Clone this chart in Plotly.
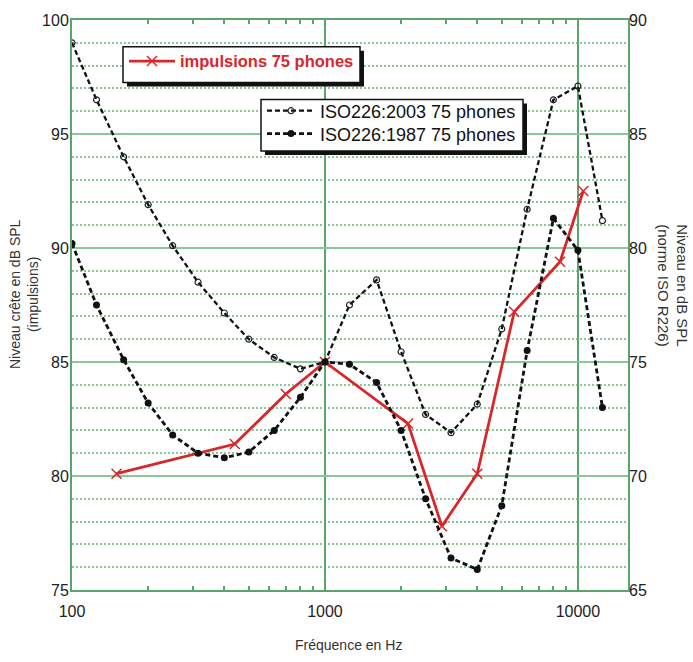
import plotly.graph_objects as go

# ---- data ----
imp_freq = [150, 440, 700, 1000, 2130, 2900, 4000, 5600, 8500, 10500]
imp_level = [80.1, 81.4, 83.6, 85.0, 82.3, 77.8, 80.1, 87.2, 89.4, 92.5]

iso_freq = [100, 125, 160, 200, 250, 315, 400, 500, 630, 800, 1000, 1250, 1600,
            2000, 2500, 3150, 4000, 5000, 6300, 8000, 10000, 12500]
iso2003 = [89.0, 86.5, 84.0, 81.9, 80.1, 78.5, 77.15, 76.0, 75.2, 74.7, 75.0, 77.5, 78.6,
           75.45, 72.7, 71.9, 73.15, 76.45, 81.7, 86.5, 87.1, 81.2]
iso1987 = [80.2, 77.5, 75.1, 73.2, 71.8, 71.0, 70.8, 71.05, 72.0, 73.45, 75.0, 74.9, 74.1,
           72.0, 69.0, 66.4, 65.9, 68.7, 75.5, 81.3, 79.9, 73.0]

left_ticks = [75, 80, 85, 90, 95, 100]
right_ticks = [65, 70, 75, 80, 85, 90]
x_ticks = [100, 1000, 10000]
x_minor = [200, 300, 400, 500, 600, 700, 800, 900,
           2000, 3000, 4000, 5000, 6000, 7000, 8000, 9000]

GREEN = "#5aa56c"
GREEN_MINOR = "#8cc79a"
RED = "#d9262b"
FONT = "Liberation Sans, Arial, sans-serif"

PW, PH, PL, PT = 556, 574, 72, 16   # plot area in px


def px_x(px):
    return (px - PL) / PW


def px_y(py):
    return 1 - (py - PT) / PH


fig = go.Figure()

fig.add_trace(go.Scatter(
    x=iso_freq, y=iso2003, yaxis="y2", name="ISO226:2003 75 phones",
    mode="lines+markers", legend="legend2",
    line=dict(color="#111", width=2.3, dash="5px,3px"),
    marker=dict(symbol="circle-open", size=6, color="#222", line=dict(width=1.2, color="#222")),
))
fig.add_trace(go.Scatter(
    x=iso_freq, y=iso1987, yaxis="y2", name="ISO226:1987 75 phones",
    mode="lines+markers", legend="legend3",
    line=dict(color="#111", width=2.8, dash="5px,3px"),
    marker=dict(symbol="circle", size=7, color="#111"),
))
fig.add_trace(go.Scatter(
    x=imp_freq, y=imp_level, name="impulsions 75 phones",
    mode="lines+markers", legend="legend",
    line=dict(color=RED, width=2.8),
    marker=dict(symbol="x-thin", size=10, line=dict(width=1.5, color=RED), color=RED),
))

iso_legend_font = dict(size=18, color="#111", family=FONT)

fig.update_layout(
    width=693, height=662,
    margin=dict(l=72, r=65, t=16, b=72),
    paper_bgcolor="white", plot_bgcolor="white",
    font=dict(family=FONT, color="#222"),
    xaxis=dict(
        type="log", range=[2, 4.198],
        tickvals=x_ticks, ticktext=[str(v) for v in x_ticks],
        tickfont=dict(size=16, color="#222"),
        showgrid=True, gridcolor=GREEN, gridwidth=1.5,
        showline=True, linecolor=GREEN, linewidth=2, mirror="allticks",
        ticks="inside", ticklen=0, tickcolor=GREEN, ticklabelstandoff=6,
        minor=dict(tickvals=x_minor, ticks="inside", ticklen=4, tickwidth=2,
                   tickcolor=GREEN, showgrid=False),
        zeroline=False,
    ),
    yaxis=dict(
        range=[75, 100], tickvals=left_ticks,
        tickfont=dict(size=16, color="#222"),
        showgrid=True, gridcolor=GREEN_MINOR, gridwidth=2,
        showline=True, linecolor=GREEN, linewidth=2, mirror=True,
        ticks="", zeroline=False, ticklabelstandoff=-2,
        minor=dict(dtick=1, showgrid=True, gridcolor=GREEN_MINOR, gridwidth=1.5,
                   griddash="2px,2px"),
    ),
    yaxis2=dict(
        range=[65, 90], tickvals=right_ticks, overlaying="y", side="right",
        tickfont=dict(size=16, color="#222"),
        showgrid=False, zeroline=False, ticks="", showline=False,
    ),
    legend=dict(
        x=px_x(124), y=px_y(40), xanchor="left", yanchor="top",
        bgcolor="rgba(0,0,0,0)", borderwidth=0, itemwidth=46,
        font=dict(size=16.5, color=RED, family=FONT, weight="bold"),
    ),
    legend2=dict(
        x=px_x(262), y=px_y(89), xanchor="left", yanchor="top",
        bgcolor="rgba(0,0,0,0)", borderwidth=0, itemwidth=48,
        font=iso_legend_font,
    ),
    legend3=dict(
        x=px_x(262), y=px_y(112), xanchor="left", yanchor="top",
        bgcolor="rgba(0,0,0,0)", borderwidth=0, itemwidth=48,
        font=iso_legend_font,
    ),
    showlegend=True,
)

# legend boxes with drop shadows
for (x0, y0, x1, y1) in [(123, 43, 360, 79), (261, 96, 523, 148)]:
    fig.add_shape(type="rect", xref="paper", yref="paper",
                  x0=px_x(x0 + 4), x1=px_x(x1 + 4), y0=px_y(y1 + 4), y1=px_y(y0 + 4),
                  fillcolor="#111", line=dict(width=0), layer="above")
    fig.add_shape(type="rect", xref="paper", yref="paper",
                  x0=px_x(x0), x1=px_x(x1), y0=px_y(y1), y1=px_y(y0),
                  fillcolor="white", line=dict(width=1.5, color="#111"), layer="above")

fig.add_annotation(text="Niveau crête en dB SPL<br>(impulsions)", xref="paper", yref="paper",
                   x=px_x(24), y=px_y(292), textangle=-90, showarrow=False,
                   font=dict(size=14, color="#333"), xanchor="center", yanchor="middle")
fig.add_annotation(text="Niveau en dB SPL<br>(norme ISO R226)", xref="paper", yref="paper",
                   x=px_x(673), y=px_y(283), textangle=90, showarrow=False,
                   font=dict(size=15, color="#333"), xanchor="center", yanchor="middle")
fig.add_annotation(text="Fréquence en Hz", xref="paper", yref="paper",
                   x=px_x(348), y=px_y(645), showarrow=False,
                   font=dict(size=14, color="#333"), xanchor="center", yanchor="middle")

fig.write_html("out.html")
